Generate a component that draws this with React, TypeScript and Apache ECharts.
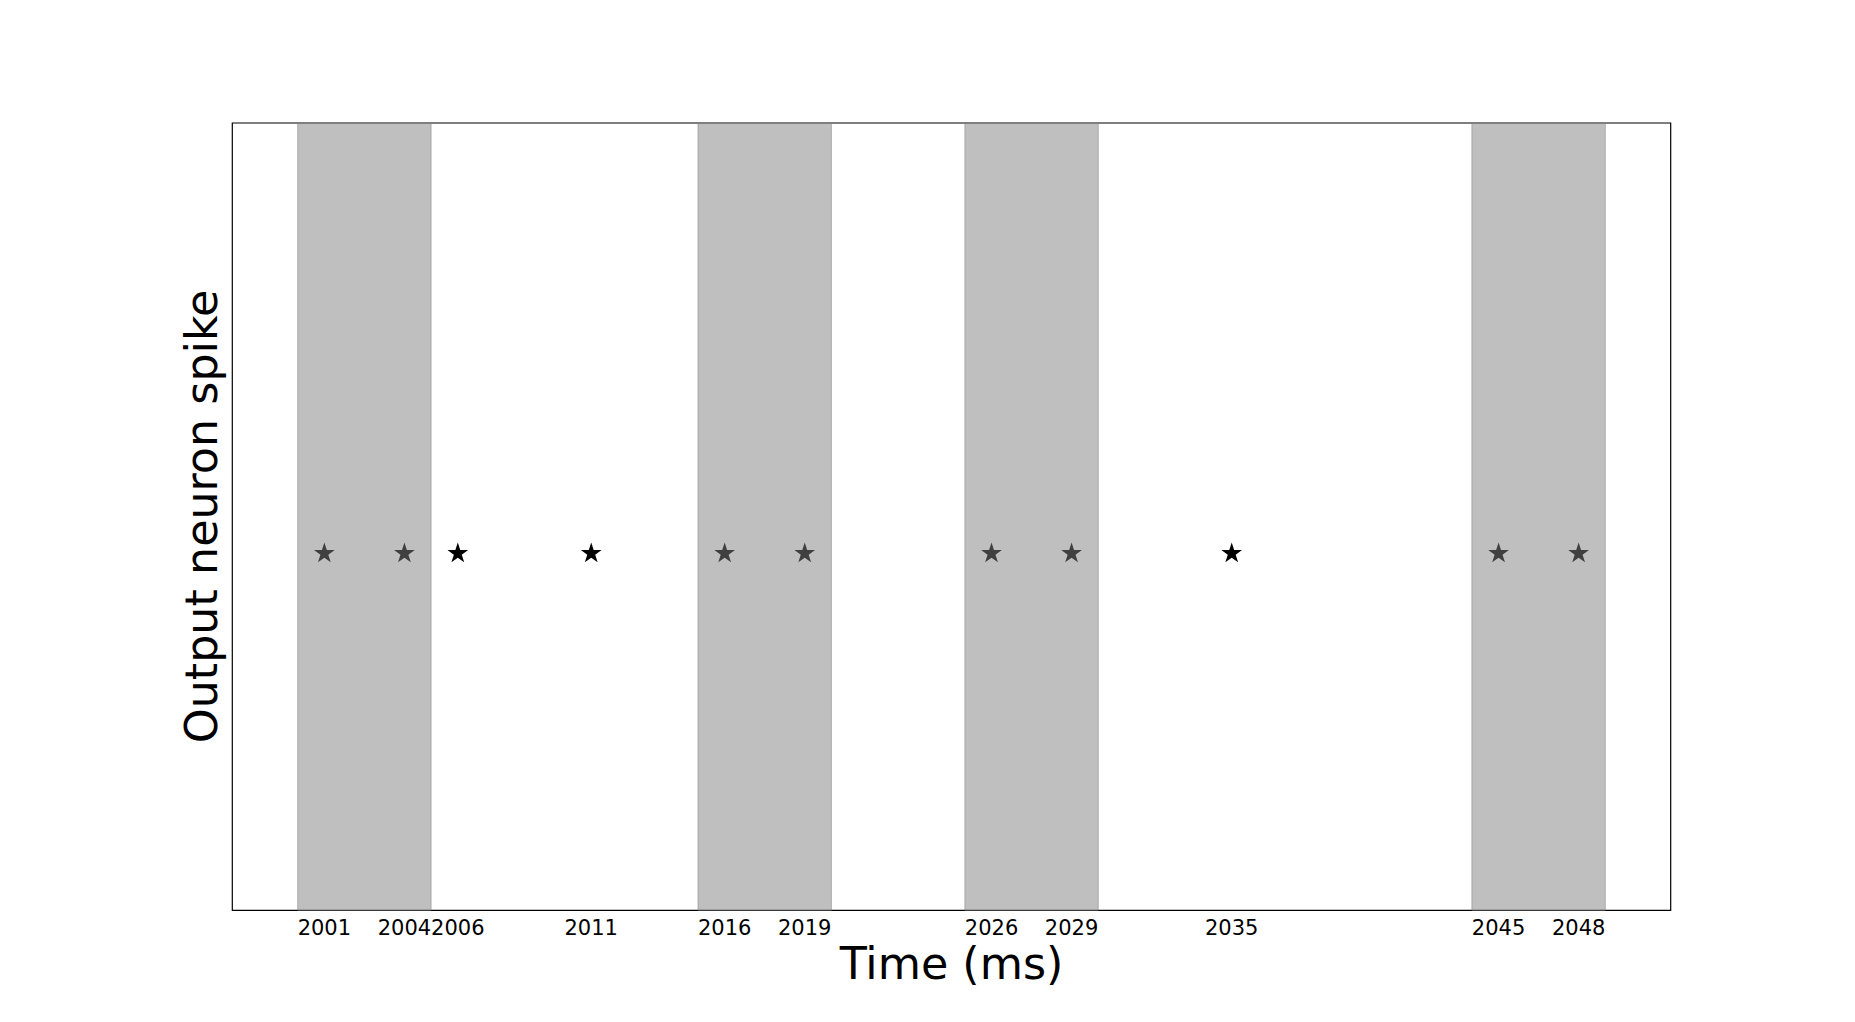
import React, { useEffect, useRef } from "react";
import * as echarts from "echarts";

// Spike times of the output neuron (ms)
const spikeTimes = [2001, 2004, 2006, 2011, 2016, 2019, 2026, 2029, 2035, 2045, 2048];
// Spike row value
const spikeRow = 0;
// Shaded stimulus windows [start, end] (ms)
const windows: [number, number][] = [
  [2000, 2005],
  [2015, 2020],
  [2025, 2030],
  [2044, 2049],
];
// Tick labels on the time axis
const tickValues = spikeTimes;
const xMin = 1997.55;
const xMax = 2051.45;
const yMin = -1;
const yMax = 1.2;

// 5-point star (matplotlib '*' marker), inner radius ratio 0.382
function starPath(): string {
  const pts: string[] = [];
  const inner = 0.381966;
  for (let i = 0; i < 10; i++) {
    const r = i % 2 === 0 ? 1 : inner;
    const a = Math.PI / 2 + (i * Math.PI) / 5;
    const x = r * Math.cos(a) * 100;
    const y = -r * Math.sin(a) * 100;
    pts.push(`${i === 0 ? "M" : "L"}${x.toFixed(2)} ${y.toFixed(2)}`);
  }
  return "path://" + pts.join(" ") + " Z";
}

export default function App() {
  const ref = useRef<HTMLDivElement>(null);
  useEffect(() => {
    if (!ref.current) return;
    const chart = echarts.init(ref.current, null, { renderer: "svg" });
    const font = "DejaVu Sans";
    chart.setOption({
      animation: false,
      backgroundColor: "#ffffff",
      textStyle: { fontFamily: font },
      grid: {
        left: 232.3,
        top: 123,
        right: 184.3,
        bottom: 111.7,
        show: true,
        borderColor: "#000000",
        borderWidth: 1.2,
        backgroundColor: "transparent",
      },
      xAxis: {
        type: "value",
        min: xMin,
        max: xMax,
        axisLine: { show: false },
        splitLine: { show: false },
        axisTick: {
          show: true,
          customValues: tickValues,
          length: 5,
          lineStyle: { color: "#000", width: 1 },
        },
        axisLabel: {
          show: true,
          customValues: tickValues,
          formatter: (v: number) => String(v),
          fontSize: 21,
          color: "#000",
          fontFamily: font,
          margin: 7,
        },
      },
      yAxis: {
        type: "value",
        min: yMin,
        max: yMax,
        axisLine: { show: false },
        axisTick: { show: false },
        axisLabel: { show: false },
        splitLine: { show: false },
      },
      graphic: [
        {
          type: "text",
          x: 951.5,
          y: 963,
          style: {
            text: "Time (ms)",
            fontSize: 44.4,
            fontFamily: font,
            fill: "#000",
            textAlign: "center",
            textVerticalAlign: "middle",
          },
        },
        {
          type: "text",
          x: 201,
          y: 516.5,
          rotation: Math.PI / 2,
          style: {
            text: "Output neuron spike",
            fontSize: 44.4,
            fontFamily: font,
            fill: "#000",
            textAlign: "center",
            textVerticalAlign: "middle",
          },
        },
      ],
      series: [
        {
          type: "scatter",
          z: 2,
          symbol: starPath(),
          symbolSize: [20.7, 19.7],
          itemStyle: { color: "#000000", opacity: 1 },
          data: spikeTimes.map((t) => [t, spikeRow]),
          markArea: {
            z: 10,
            silent: true,
            itemStyle: {
              color: "rgba(128,128,128,0.5)",
              borderColor: "rgba(128,128,128,0.5)",
              borderWidth: 1,
            },
            label: { show: false },
            data: windows.map(([a, b]) => [{ xAxis: a }, { xAxis: b }]),
          },
        },
      ],
    });
    return () => chart.dispose();
  }, []);
  return (
    <div
      ref={ref}
      style={{ position: "fixed", left: 0, top: 0, width: 1855, height: 1022 }}
    />
  );
}
